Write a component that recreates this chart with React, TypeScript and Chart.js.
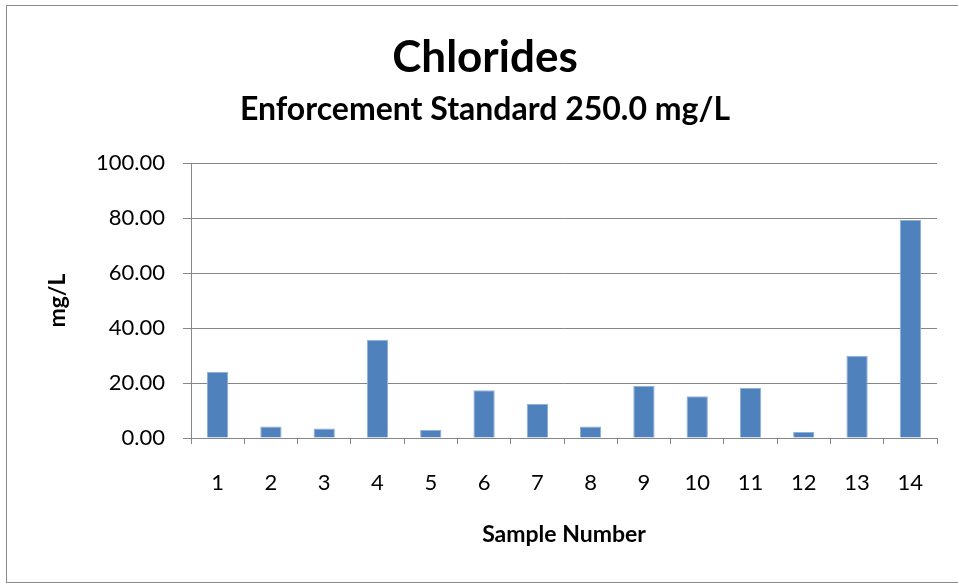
import React, { useEffect, useRef } from "react";
import { Chart, registerables } from "chart.js";

Chart.register(...registerables);

const categories = ["1", "2", "3", "4", "5", "6", "7", "8", "9", "10", "11", "12", "13", "14"];
const chlorideValues = [24.0, 4.2, 3.5, 35.7, 2.9, 17.4, 12.4, 4.2, 18.9, 15.2, 18.2, 2.2, 29.9, 79.3];
const yMin = 0;
const yMax = 100;
const yStep = 20;
const titleText = "Chlorides";
const subtitleText = "Enforcement Standard 250.0 mg/L";
const yTitle = "mg/L";
const xTitle = "Sample Number";

const FONT = 'Lato, "Liberation Sans", sans-serif';
const GRID = "#868686";

const borderPlugin = {
  id: "outerBorder",
  beforeDraw(chart: any) {
    const ctx = chart.ctx;
    ctx.save();
    ctx.fillStyle = "#ffffff";
    ctx.fillRect(0, 0, chart.width, chart.height);
    ctx.strokeStyle = "#8a8a8a";
    ctx.lineWidth = 1;
    ctx.strokeRect(6.5, 5.5, 980, 577);
    ctx.restore();
  },
};

export default function App() {
  const ref = useRef<HTMLCanvasElement | null>(null);

  useEffect(() => {
    if (!ref.current) return;
    const chart = new Chart(ref.current, {
      type: "bar",
      data: {
        labels: categories,
        datasets: [
          {
            label: "Chlorides",
            data: chlorideValues,
            backgroundColor: "#4F81BD",
            borderColor: "#8FB0D8",
            borderWidth: { top: 1, left: 1, right: 1, bottom: 0 },
            categoryPercentage: 1,
            barPercentage: 0.4,
          },
        ],
      },
      options: {
        responsive: false,
        animation: false,
        layout: { padding: { top: 10, left: 33, right: 21, bottom: 0 } },
        plugins: {
          legend: { display: false },
          tooltip: { enabled: false },
          title: {
            display: true,
            text: titleText,
            color: "#000",
            font: { family: FONT, size: 44, weight: "bold" },
            padding: { top: 21.6, bottom: 0 },
          },
          subtitle: {
            display: true,
            text: subtitleText,
            color: "#000",
            font: { family: FONT, size: 32, weight: "bold" },
            padding: { top: 6.4, bottom: 33.8 },
          },
        },
        scales: {
          x: {
            afterFit(scale: any) {
              scale.height = 145;
            },
            grid: {
              offset: true,
              drawOnChartArea: false,
              drawTicks: true,
              tickLength: 6,
              color: GRID,
            },
            border: { color: GRID, width: 1 },
            ticks: {
              color: "#000",
              font: { family: FONT, size: 22 },
              padding: 26,
              maxRotation: 0,
            },
            title: {
              display: true,
              text: xTitle,
              color: "#000",
              font: { family: FONT, size: 23, weight: "bold" },
              padding: { top: 0, bottom: 34.2 },
            },
          },
          y: {
            min: yMin,
            max: yMax,
            afterFit(scale: any) {
              scale.width = 158;
            },
            grid: {
              color: GRID,
              drawTicks: true,
              tickLength: 8,
            },
            border: { color: GRID, width: 1 },
            ticks: {
              stepSize: yStep,
              color: "#000",
              font: { family: FONT, size: 22 },
              padding: 18,
              callback: (v: any) => Number(v).toFixed(2),
            },
            title: {
              display: true,
              text: yTitle,
              color: "#000",
              font: { family: FONT, size: 23, weight: "bold" },
              padding: { top: 11.2, bottom: 0 },
            },
          },
        },
      },
      plugins: [borderPlugin],
    });
    return () => chart.destroy();
  }, []);

  return (
    <div style={{ position: "fixed", left: 0, top: 0, width: 958, height: 583, background: "#fff" }}>
      <canvas ref={ref} width={958} height={583} style={{ display: "block" }} />
    </div>
  );
}
